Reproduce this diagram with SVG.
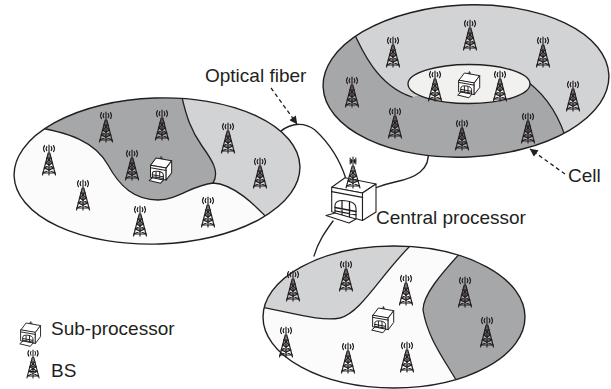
<svg xmlns="http://www.w3.org/2000/svg" xmlns:xlink="http://www.w3.org/1999/xlink" width="611" height="389" viewBox="0 0 611 389">
  <style>
    .ln{fill:none;stroke:#231f20;stroke-width:1.3;stroke-linecap:round;stroke-linejoin:round}
    .rim{fill:none;stroke:#231f20;stroke-width:1.4}
    .dark{fill:#a6a7a9}
    .light{fill:#d2d3d4}
    .pale{fill:#f1f1f0}
    .ptr{fill:none;stroke:#231f20;stroke-width:1.3;stroke-dasharray:4 3}
    .lbl{font-family:"Liberation Sans",Arial,Helvetica,sans-serif;font-size:19px;fill:#231f20}
    .box{fill:#ffffff;stroke:#231f20;stroke-width:1.1;stroke-linejoin:round}
  </style>
  <defs>
    <!-- base station tower, origin at mast top -->
    <g id="bs" fill="none" stroke="#231f20" stroke-width="1.15" stroke-linecap="round">
      <path d="M0,0V30"/>
      <path d="M-2.2,1.6Q-3.5,3.6 -2.2,5.6M2.2,1.6Q3.5,3.6 2.2,5.6M-4.5,0.6Q-6.5,3.6 -4.5,6.6M4.5,0.6Q6.5,3.6 4.5,6.6"/>
      <path d="M-0.8,8L-6.5,30M0.8,8L6.5,30"/>
      <path d="M-2.1,13H2.1M-3.4,18H3.4M-4.7,23H4.7M-6,28H6"/>
      <path d="M-2.1,13L3.4,18M2.1,13L-3.4,18M-3.4,18L4.7,23M3.4,18L-4.7,23M-4.7,23L6,28M4.7,23L-6,28"/>
    </g>
    <!-- small processing unit: box with door, ramp and antenna -->
    <g id="sp" stroke="#231f20" stroke-width="1.1" stroke-linejoin="round" stroke-linecap="round">
      <path d="M11.5,5V-1.5M10,0.2H13" fill="none"/>
      <path d="M0,8L6,0L23,3L17,11Z" fill="#fff"/>
      <path d="M0,8L17,11V24L0,21Z" fill="#fff"/>
      <path d="M17,11L23,3V16L17,24Z" fill="#fff"/>
      <path d="M0,10.5L17,13.5" fill="none"/>
      <path d="M2,21.5V17Q2,13.8 8,14.4Q14,15.2 14,18.5V23.8" fill="#fff"/>
      <path d="M2,18.2L14,20.4M2,20.4L14,22.4M6,15V22M10,15.2V23" fill="none"/>
      <path d="M2,21.5L-1.5,24.5L11,27.5L14,23.8Z" fill="#fff"/>
    </g>
    <marker id="ah" viewBox="0 0 10 10" refX="9.5" refY="5" markerWidth="10" markerHeight="8" markerUnits="userSpaceOnUse" orient="auto">
      <path d="M0,0L10,5L0,10Z" fill="#231f20"/>
    </marker>
    <clipPath id="clipL"><ellipse cx="157" cy="171" rx="143" ry="73" transform="rotate(-2 157 171)"/></clipPath>
    <clipPath id="clipR"><ellipse cx="466" cy="81" rx="143" ry="76" transform="rotate(-2.5 466 81)"/></clipPath>
    <clipPath id="clipB"><ellipse cx="394" cy="317" rx="131" ry="71"/></clipPath>
  </defs>

  <!-- fiber links -->
  <g id="connectors">
    <path class="ln" d="M276,136C286,124 302,120 315,130C328,142 340,160 346,179"/>
    <path class="ln" d="M428,150C431,170 415,178 395,182C386,184 380,186 375,188"/>
    <path class="ln" d="M333,221C325,232 318,242 314,256"/>
    <path class="ptr" d="M271,88L297,124" marker-end="url(#ah)"/>
    <path class="ptr" d="M565,174L530,149" marker-end="url(#ah)"/>
  </g>

  <!-- left cell cluster -->
  <g id="cluster-left">
    <g clip-path="url(#clipL)">
      <rect x="0" y="80" width="320" height="180" fill="#fbfbfb"/>
      <path class="dark" d="M28,126C70,132 95,142 108,165C120,187 135,200 158,200C178,200 192,185 213,183C220,172 212,160 202,146C192,132 186,118 180,88L180,60L10,60L10,126Z"/>
      <path class="light" d="M180,88C186,118 192,132 202,146C212,160 220,172 213,183C232,184 252,200 282,234L330,240L330,60L180,60Z"/>
      <path class="ln" d="M28,126C70,132 95,142 108,165C120,187 135,200 158,200C178,200 192,185 213,183C232,184 252,200 282,234"/>
      <path class="ln" d="M180,88C186,118 192,132 202,146C212,160 220,172 213,183"/>
    </g>
    <ellipse class="rim" cx="157" cy="171" rx="143" ry="73" transform="rotate(-2 157 171)"/>
  </g>

  <!-- upper-right cell cluster -->
  <g id="cluster-right">
    <g clip-path="url(#clipR)">
      <rect x="320" y="0" width="300" height="165" class="dark"/>
      <path class="light" d="M350,24C362,52 378,86 412,97L470,84L528,82C545,95 560,115 568,146L620,170L620,-10L340,-10Z"/>
      <path class="ln" d="M350,24C362,52 378,86 412,97"/>
      <path class="ln" d="M528,82C545,95 560,115 568,146"/>
    </g>
    <ellipse class="rim" cx="466" cy="81" rx="143" ry="76" transform="rotate(-2.5 466 81)"/>
    <ellipse class="pale" cx="469" cy="84" rx="61" ry="19.5" stroke="#231f20" stroke-width="1.3"/>
  </g>

  <!-- lower cell cluster -->
  <g id="cluster-bottom">
    <g clip-path="url(#clipB)">
      <rect x="255" y="240" width="280" height="150" fill="#fbfbfb"/>
      <path class="light" d="M250,305C290,312 320,322 340,318C362,312 380,275 414,242L414,230L250,230Z"/>
      <path class="dark" d="M463,250C440,275 423,295 423,310C428,340 445,360 462,390L540,400L540,240Z"/>
      <path class="ln" d="M250,305C290,312 320,322 340,318C362,312 380,275 414,242"/>
      <path class="ln" d="M463,250C440,275 423,295 423,310C428,340 445,360 462,390"/>
    </g>
    <ellipse class="rim" cx="394" cy="317" rx="131" ry="71"/>
  </g>

  <!-- base stations -->
  <g id="bs-left">
    <use href="#bs" x="106" y="112"/>
    <use href="#bs" x="162" y="110"/>
    <use href="#bs" x="228" y="123"/>
    <use href="#bs" x="49" y="145"/>
    <use href="#bs" x="132" y="150"/>
    <use href="#bs" x="260" y="158"/>
    <use href="#bs" x="83" y="180"/>
    <use href="#bs" x="208" y="197"/>
    <use href="#bs" x="140" y="206"/>
  </g>
  <g id="bs-right">
    <use href="#bs" x="470" y="20"/>
    <use href="#bs" x="393" y="37"/>
    <use href="#bs" x="543" y="37"/>
    <use href="#bs" x="352" y="77"/>
    <use href="#bs" x="435" y="71"/>
    <use href="#bs" x="500" y="71"/>
    <use href="#bs" x="573" y="81"/>
    <use href="#bs" x="395" y="108"/>
    <use href="#bs" x="462" y="120"/>
    <use href="#bs" x="528" y="113"/>
  </g>
  <g id="bs-bottom">
    <use href="#bs" x="293" y="271"/>
    <use href="#bs" x="346" y="261"/>
    <use href="#bs" x="406" y="275"/>
    <use href="#bs" x="465" y="277"/>
    <use href="#bs" x="487" y="317"/>
    <use href="#bs" x="286" y="327"/>
    <use href="#bs" x="348" y="343"/>
    <use href="#bs" x="407" y="342"/>
  </g>

  <!-- sub-processors -->
  <g id="sub-left"><use href="#sp" transform="translate(150.5 158) scale(0.92)"/></g>
  <g id="sub-right"><use href="#sp" transform="translate(459 73) scale(0.9)"/></g>
  <g id="sub-bottom"><use href="#sp" transform="translate(373 308) scale(0.9)"/></g>

  <!-- central processor -->
  <g id="central">
    <path class="box" d="M331.7,187.3L345,177.7L376,184L362.5,193Z"/>
    <path class="box" d="M331.7,187.3L362.5,193V220.5L331.7,211.7Z"/>
    <path class="box" d="M362.5,193L376,184V212L362.5,220.5Z"/>
    <path class="ln" stroke-width="1.1" d="M331.7,191.6L362.5,197.3"/>
    <path class="box" d="M335,213V205Q336,199.5 345.5,200.8Q356,202 356,208V219"/>
    <path class="ln" stroke-width="1" d="M335,207.5L356,211.5M335,210.8L356,214.8M342,201V215M349.5,201.6V217"/>
    <path class="box" d="M335,213L326,215.5L349,223L356,219Z"/>
    <g fill="none" stroke="#231f20" stroke-width="1.1" stroke-linecap="round" transform="translate(353 157)">
      <path d="M0,0V31"/>
      <path d="M-2.8,1V7M2.8,1V7M-1.5,2.5V6M1.5,2.5V6M-3,4H3"/>
      <path d="M-0.8,9L-7,31M0.8,9L7,31"/>
      <path d="M-2.2,14H2.2M-3.6,19H3.6M-5,24H5M-6.4,29H6.4"/>
      <path d="M-2.2,14L3.6,19M2.2,14L-3.6,19M-3.6,19L5,24M3.6,19L-5,24M-5,24L6.4,29M5,24L-6.4,29"/>
    </g>
  </g>

  <!-- labels -->
  <g id="labels">
    <text class="lbl" x="205" y="82">Optical fiber</text>
    <text class="lbl" x="568" y="182">Cell</text>
    <text class="lbl" x="376" y="224">Central processor</text>
  </g>

  <!-- legend -->
  <g id="legend">
    <use href="#sp" transform="translate(21 323) scale(0.85)"/>
    <text class="lbl" x="51" y="335">Sub-processor</text>
    <use href="#bs" transform="translate(33 350) scale(0.93)"/>
    <text class="lbl" x="51" y="377">BS</text>
  </g>
</svg>
